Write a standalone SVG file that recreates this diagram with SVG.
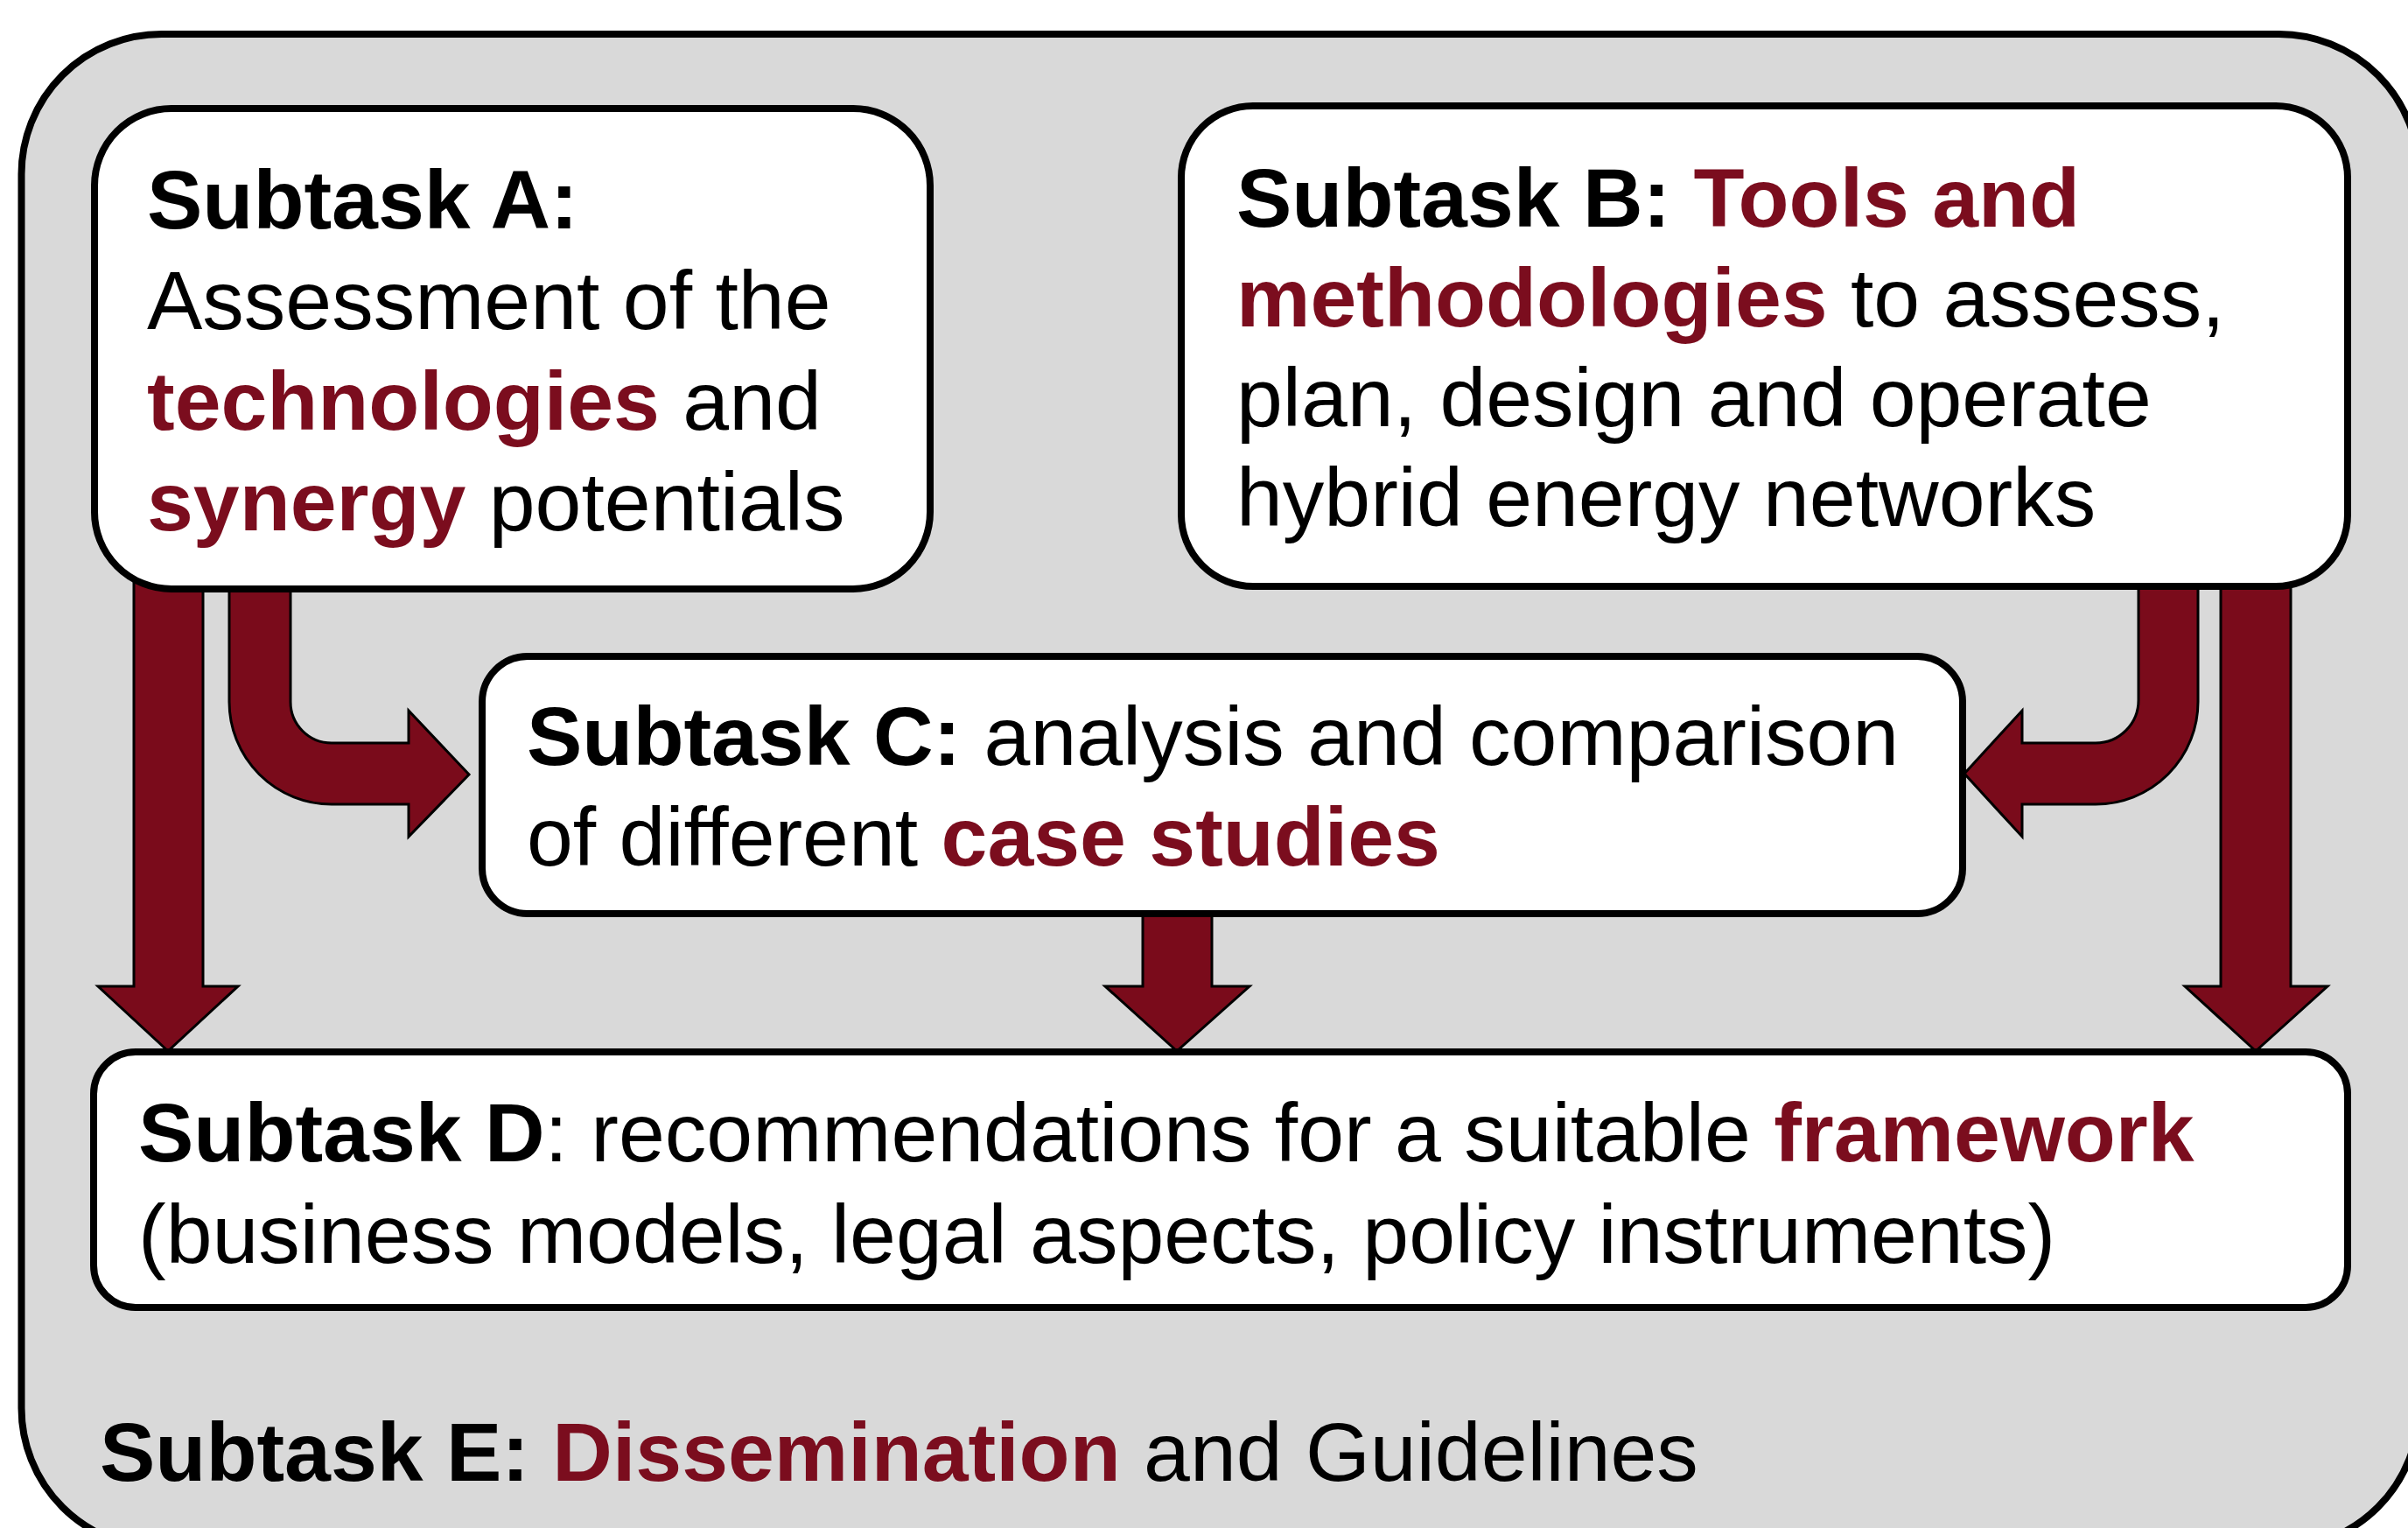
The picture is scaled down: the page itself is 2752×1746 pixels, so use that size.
<svg xmlns="http://www.w3.org/2000/svg" width="2752" height="1746" viewBox="0 0 2752 1746">
  <style>
    .box { fill: #FFFFFF; stroke: #000000; stroke-width: 8; }
    .frame { fill: #D9D9D9; stroke: #000000; stroke-width: 8; }
    .arrow { fill: #7A0B1B; stroke: #000000; stroke-width: 3; stroke-linejoin: miter; }
    text { font-family: "Liberation Sans", Arial, Helvetica, sans-serif; font-size: 95px; fill: #000000; }
    .b { font-weight: bold; }
    .r { font-weight: bold; fill: #7B0D1E; }
  </style>
  <rect x="0" y="0" width="2752" height="1746" fill="#FFFFFF"/>
  <g id="subtask-e">
    <rect class="frame" x="24.5" y="39" width="2740" height="1730" rx="160" ry="160"/>
    <text x="114" y="1692"><tspan class="b">Subtask E: </tspan><tspan class="r">Dissemination</tspan> and Guidelines</text>
  </g>
  <g id="connectors">
    <path class="arrow" d="M153,640 L232,640 L232,1127 L272,1127 L192,1201 L112,1127 L153,1127 Z"/>
    <path class="arrow" d="M262,640 L332,640 L332,802 A47,47 0 0 0 379,849 L467,849 L467,812 L536,885 L467,956 L467,919 L379,919 A117,117 0 0 1 262,802 Z"/>
    <path class="arrow" d="M1306,1030 L1385,1030 L1385,1127 L1428,1127 L1345,1201 L1263,1127 L1306,1127 Z"/>
    <path class="arrow" d="M2444,640 L2512,640 L2512,802 A117,117 0 0 1 2395,919 L2311,919 L2311,956 L2245,884 L2311,812 L2311,849 L2395,849 A49,49 0 0 0 2444,800 Z"/>
    <path class="arrow" d="M2538,640 L2618,640 L2618,1127 L2660,1127 L2578,1201 L2497,1127 L2538,1127 Z"/>
  </g>
  <g id="subtask-a">
    <rect class="box" x="108" y="124" width="955" height="549" rx="88" ry="88"/>
    <text x="168" y="261" class="b">Subtask A:</text>
    <text x="168" y="376">Assessment of the</text>
    <text x="168" y="491"><tspan class="r">technologies</tspan> and</text>
    <text x="168" y="606"><tspan class="r">synergy</tspan> potentials</text>
  </g>
  <g id="subtask-b">
    <rect class="box" x="1350" y="121" width="1333" height="549" rx="82" ry="82"/>
    <text x="1413" y="259"><tspan class="b">Subtask B: </tspan><tspan class="r">Tools and</tspan></text>
    <text x="1413" y="373"><tspan class="r">methodologies</tspan> to assess,</text>
    <text x="1413" y="487">plan, design and operate</text>
    <text x="1413" y="601">hybrid energy networks</text>
  </g>
  <g id="subtask-c">
    <rect class="box" x="551" y="750" width="1692" height="294" rx="52" ry="52"/>
    <text x="602" y="874"><tspan class="b">Subtask C:</tspan> analysis and comparison</text>
    <text x="602" y="989">of different <tspan class="r">case studies</tspan></text>
  </g>
  <g id="subtask-d">
    <rect class="box" x="107" y="1202" width="2576" height="292" rx="48" ry="48"/>
    <text x="158" y="1327"><tspan class="b">Subtask D</tspan>: recommendations for a suitable <tspan class="r">framework</tspan></text>
    <text x="158" y="1443">(business models, legal aspects, policy instruments)</text>
  </g>
</svg>
